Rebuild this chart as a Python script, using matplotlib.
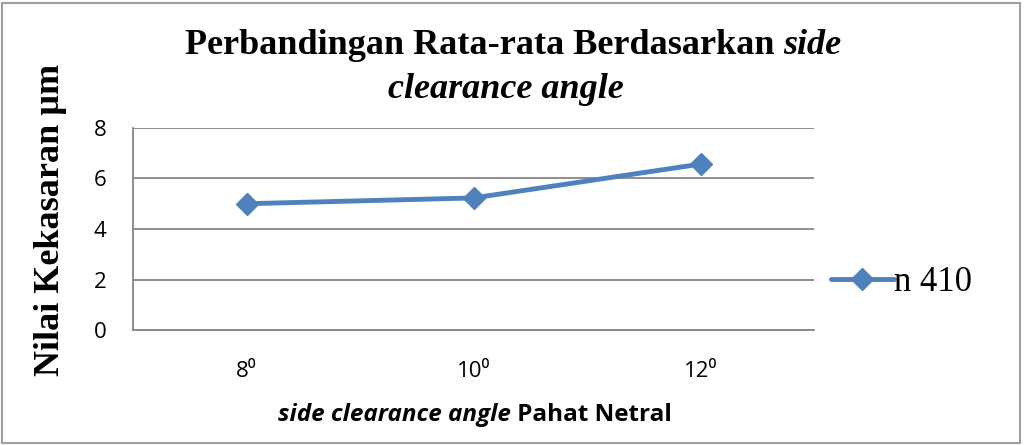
import matplotlib
matplotlib.use("Agg")
import matplotlib.pyplot as plt
from matplotlib.patches import Rectangle

categories = ["8⁰", "10⁰", "12⁰"]
values = [5.0, 5.23, 6.57]
series_name = "n 410"
y_ticks = [0, 2, 4, 6, 8]

blue = "#4F81BD"
grid_gray = "#868686"
serif = ["Liberation Serif", "DejaVu Serif"]
sans = ["Open Sans", "DejaVu Sans"]

fig = plt.figure(figsize=(10.24, 4.45), dpi=100)
ax = fig.add_axes([0.13, 0.2584, 0.665, 0.4540])

x = list(range(len(categories)))
line, = ax.plot(x, values, color=blue, lw=3.5, marker="D", ms=11,
                label=series_name, solid_capstyle="round")

ax.set_xlim(-0.5, len(categories) - 0.5)
ax.set_ylim(0, 8)
ax.set_yticks(y_ticks)
ax.set_xticks(x)
ax.set_xticklabels(categories, family=sans, fontsize=16)
for lab in ax.get_yticklabels():
    lab.set_family(sans)
    lab.set_fontsize(16)
ax.tick_params(length=0)
ax.tick_params(axis="y", pad=19)
ax.tick_params(axis="x", pad=22)
ax.yaxis.grid(True, color=grid_gray, lw=1.3)
ax.set_axisbelow(True)
for side in ["top", "right"]:
    ax.spines[side].set_visible(False)
for side in ["left", "bottom"]:
    ax.spines[side].set_color(grid_gray)
    ax.spines[side].set_linewidth(1.3)

# y label
fig.text(0.049, 0.506, "Nilai Kekasaran µm", rotation=90, ha="center", va="center",
         family=serif, fontweight="bold", fontsize=26)

# legend
leg = fig.legend(handles=[line], loc="center left", bbox_to_anchor=(0.798, 0.365),
                 frameon=False, prop={"family": serif, "size": 25},
                 handlelength=1.8, handletextpad=0.0, borderaxespad=0)

# title and x label with mixed styles
fig.canvas.draw()
r = fig.canvas.get_renderer()


def mixed_line(parts, xc, y, size, fam):
    texts = []
    for s, style in parts:
        t = fig.text(0, y, s, family=fam, fontweight="bold", fontstyle=style,
                     fontsize=size, ha="left", va="center")
        texts.append(t)
    widths = [t.get_window_extent(r).width / fig.bbox.width for t in texts]
    x0 = xc - sum(widths) / 2
    for t, w in zip(texts, widths):
        t.set_x(x0)
        x0 += w


mixed_line([("Perbandingan Rata-rata Berdasarkan ", "normal"), ("side", "italic")],
           0.501, 0.897, 26, serif)
mixed_line([("clearance angle", "italic")], 0.494, 0.80, 26, serif)
mixed_line([("side clearance angle", "italic"), (" Pahat Netral", "normal")],
           0.464, 0.067, 17.5, sans)

fig.patches.append(Rectangle((0.002, 0.004), 0.994, 0.99, transform=fig.transFigure,
                             fill=False, edgecolor="#A0A0A0", lw=1.5))

fig.savefig("out.png", dpi=100)
